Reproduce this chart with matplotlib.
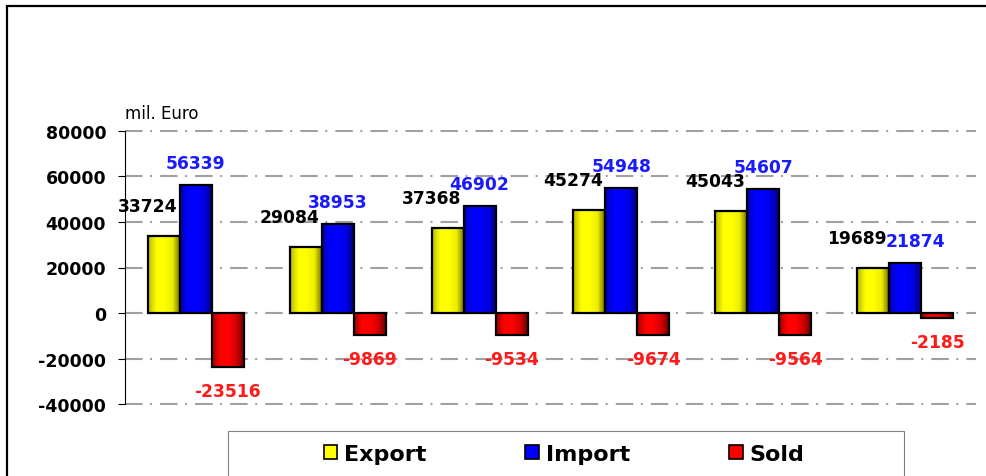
import numpy as np
import matplotlib
matplotlib.use("Agg")
import matplotlib.pyplot as plt
from matplotlib.colors import LinearSegmentedColormap
from matplotlib.patches import Rectangle, Patch

plt.rcParams['lines.scale_dashes'] = False
plt.rcParams['font.family'] = ['DejaVu Sans']

# data
export = [33724, 29084, 37368, 45274, 45043, 19689]
imports = [56339, 38953, 46902, 54948, 54607, 21874]
sold = [-23516, -9869, -9534, -9674, -9564, -2185]
series_names = ["Export", "Import", "Sold"]
yticks = [-40000, -20000, 0, 20000, 40000, 60000, 80000]

W, H = 987, 477
fig = plt.figure(figsize=(W / 100, H / 100), dpi=100)

# axes placement (pixels)
left, right = 125, 976
top, bottom = 132 - 1.14, 405 + 1.14
ax = fig.add_axes([left / W, 1 - bottom / H, (right - left) / W, (bottom - top) / H])

x = np.arange(len(export))
bw = 0.2257
series = [export, imports, sold]
base_colors = ['#ffff00', '#0000ff', '#ff0000']
grads = [
    ['#b8b800', '#ffff00', '#ffff00', '#eeee00', '#6a6a00'],
    ['#0000b0', '#0000ff', '#0000ff', '#0000e0', '#000070'],
    ['#a00000', '#ff0000', '#ff0000', '#d00000', '#600000'],
]
label_colors = ['black', '#1a1aff', '#ff1a1a']
px = 0.72  # points per pixel
label_offsets = [(-16 * px, 30 * px), (0, 22 * px), (0, -24 * px)]

gradient = np.linspace(0, 1, 64).reshape(1, -1)
for j, vals in enumerate(series):
    offs = (j - 1) * bw
    cmap = LinearSegmentedColormap.from_list("g%d" % j, grads[j])
    bars = ax.bar(x + offs, vals, bw, facecolor='none', edgecolor='black',
                  linewidth=1.6, zorder=4)
    for rect in bars:
        x0 = rect.get_x()
        y0 = rect.get_y()
        h = rect.get_height()
        ax.imshow(gradient, extent=[x0, x0 + bw, min(y0, y0 + h), max(y0, y0 + h)],
                  aspect='auto', cmap=cmap, zorder=3, interpolation='bilinear')
    for i, (xi, v) in enumerate(zip(x, vals)):
        dx, dy = label_offsets[j]
        if j == 1 and i == len(vals) - 1:
            dx += 10 * px  # Excel nudged this one right to clear the export label
        ax.annotate(str(v), xy=(xi + offs, v), xytext=(dx, dy),
                    textcoords='offset points', ha='center', va='center',
                    fontsize=12.3, fontweight='bold', color=label_colors[j],
                    zorder=5)

ax.set_xlim(-0.5, len(export) - 0.5)
ax.set_ylim(-40500, 80500)
ax.set_yticks(yticks)
ax.set_yticklabels([str(t) for t in yticks], fontsize=12.5, fontweight='bold')
ax.tick_params(axis='y', length=5, width=0.8, pad=8.5, colors='black')
ax.set_xticks([])
for s in ['top', 'right', 'bottom']:
    ax.spines[s].set_visible(False)
ax.spines['left'].set_bounds(-40000, 80000)
ax.spines['left'].set_linewidth(0.8)
ax.set_axisbelow(True)
ax.grid(axis='y', color='#a0a0a0', linewidth=1.5,
        linestyle=(0, (12.6, 5.4, 1.44, 5.8)))

fig.text(left / W, 1 - 114 / H, "mil. Euro", fontsize=12, ha='left', va='center')

# outer frame
fig.add_artist(Rectangle((7 / W, -0.2), 1.2, 1.2 - 7 / H, transform=fig.transFigure,
                         fill=False, edgecolor='black', linewidth=1.6, clip_on=False))

# legend box
fig.add_artist(Rectangle((228 / W, -0.1), (904 - 228) / W, 0.1 + (477 - 432) / H,
                         transform=fig.transFigure, facecolor='white',
                         edgecolor='#808080', linewidth=0.8, clip_on=False))
handles = [Patch(facecolor=c, edgecolor='black', linewidth=1.2) for c in base_colors]
fig.legend(handles, series_names, ncol=3, frameon=False, loc='center',
           bbox_to_anchor=(564 / W, 1 - 455 / H),
           prop={'size': 16, 'weight': 'bold'},
           handlelength=0.62, handleheight=0.62, handletextpad=0.3,
           columnspacing=4.45)

fig.savefig("out.png", dpi=100)
